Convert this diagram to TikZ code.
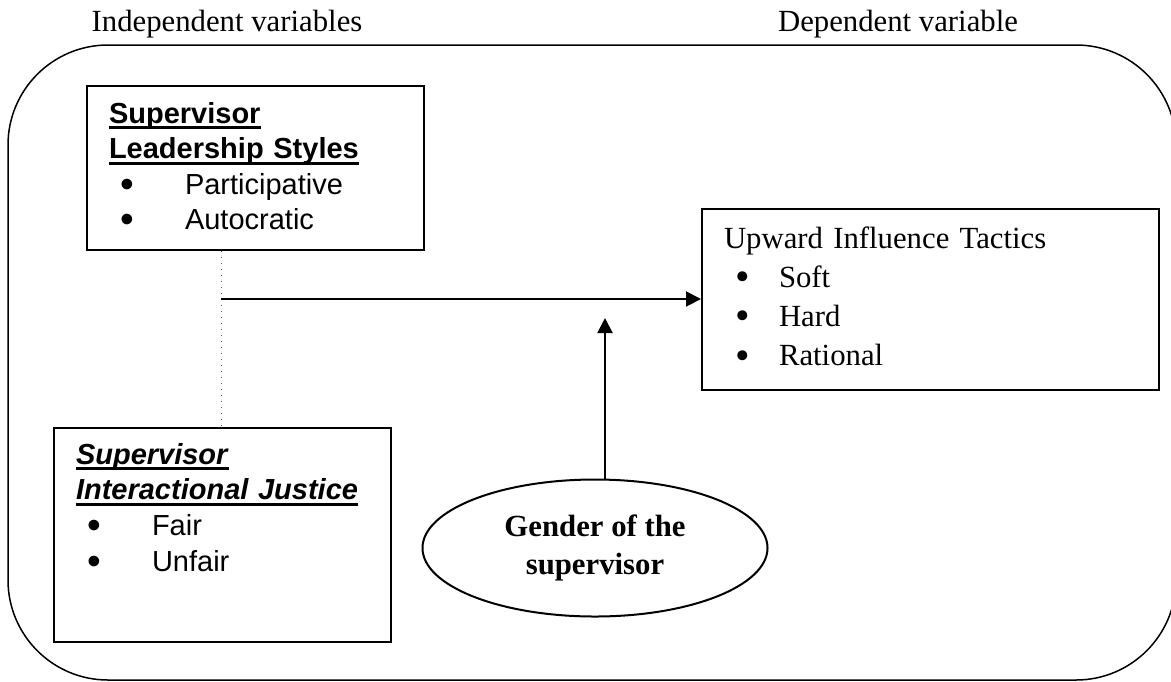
\documentclass[tikz,border=0pt]{standalone}
\usepackage{fontspec}
\setmainfont{Liberation Serif}
\setsansfont{Liberation Sans}
\usetikzlibrary{shapes.geometric, positioning, arrows.meta}

\newsavebox{\subrbox}
\newcommand{\subr}[1]{\leavevmode\sbox\subrbox{#1}\rlap{\rule[-2.4pt]{\wd\subrbox}{1.2pt}}\usebox\subrbox}
\newcommand{\vineta}[2][26pt]{\hspace*{4.4pt}\makebox[#1][l]{\raisebox{-1.3pt}{\scalebox{1.35}{\textbullet}}}#2}

\begin{document}
\begin{tikzpicture}[
    x=0.4pt, y=-0.4pt,
    % Estilos de los nodos
    varbox/.style={rectangle, draw, line width=0.8pt, align=left, inner xsep=8.8pt, inner ysep=0pt, anchor=north west},
    sansvar/.style={font=\sffamily\fontsize{11.6pt}{14.2pt}\selectfont},
    serifvar/.style={font=\fontsize{12.3pt}{15.7pt}\selectfont},
    moderator/.style={ellipse, draw, line width=0.8pt, minimum width=138pt, minimum height=54.8pt, inner sep=0pt, align=center, font=\bfseries\fontsize{12.3pt}{15.2pt}\selectfont},
    heading/.style={anchor=base, font=\fontsize{12.3pt}{15pt}\selectfont},
    arrow/.style={-{Triangle[length=6pt, width=6pt]}, line width=0.8pt}
  ]
  \useasboundingbox (0,0) rectangle (1171,681);
  \clip (0,0) rectangle (1171,681);

  % Marco exterior y encabezados
  \draw[line width=0.6pt, rounded corners=40pt] (8,45) rectangle (1176,680);
  \node[heading] (indep) at (227,31) {Independent variables};
  \node[heading] (dep) at (898,31) {Dependent variable};

  % Variables
  \node[varbox, sansvar, text width=117.2pt, text height=14.8pt, text depth=50.8pt] (lead) at (86,85)
    {\subr{\textbf{Supervisor}}\\ \subr{\textbf{Leadership Styles}}\\ \vineta{Participative}\\ \vineta{Autocratic}};
  \node[varbox, sansvar, font=\sffamily\fontsize{11.6pt}{14.3pt}\selectfont, text width=117.2pt, text height=14.4pt, text depth=71.2pt] (justice) at (53,427)
    {\subr{\textbf{\textit{Supervisor}}}\\ \subr{\textbf{\textit{Interactional Justice}}}\\ \vineta{Fair}\\ \vineta{Unfair}};
  \node[varbox, serifvar, text width=165.2pt, text height=15.6pt, text depth=56.8pt] (tactics) at (701,208)
    {Upward Influence Tactics\\ \vineta[17.6pt]{Soft}\\ \vineta[17.6pt]{Hard}\\ \vineta[17.6pt]{Rational}};
  \node[moderator] (gender) at (595,548) {Gender of the\\ supervisor};

  % Conexiones
  \coordinate (join) at (221,299);
  \coordinate (mod) at (605,318);
  \draw[dotted, line width=0.4pt, gray!70!black] (join |- lead.south) -- (join |- justice.north);
  \draw[arrow] (join) -- (join -| tactics.west);
  \draw[arrow] (mod |- gender.north) -- (mod);
\end{tikzpicture}
\end{document}
